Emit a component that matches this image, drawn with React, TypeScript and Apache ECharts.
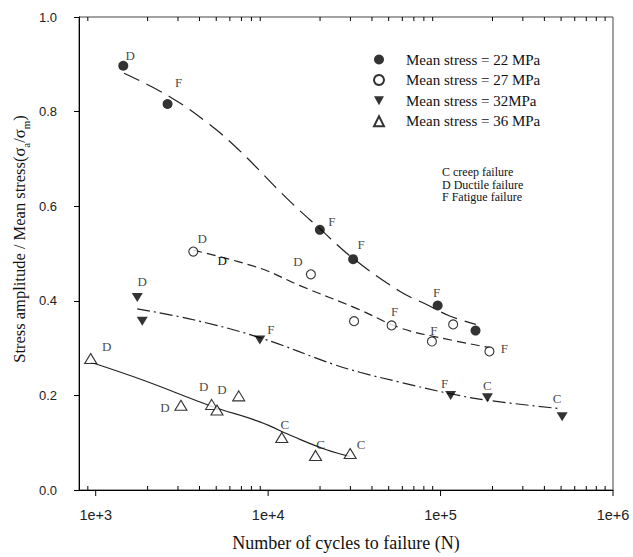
import React, { useEffect, useRef } from 'react';
import * as echarts from 'echarts';

const SERIF = '"Liberation Serif", "Times New Roman", serif';
const SANS = '"Liberation Sans", Arial, sans-serif';

const seriesNames = ['Mean stress = 22 MPa', 'Mean stress = 27 MPa', 'Mean stress = 32MPa', 'Mean stress = 36 MPa'];
const failureNotes = ['C creep failure', 'D Ductile failure', 'F Fatigue failure'];

// measured points (cycles to failure, stress ratio, failure mode)
const s1Cycles = [1445, 2610, 19950, 31100, 96200, 159500];
const s1Ratio = [0.897, 0.816, 0.55, 0.488, 0.39, 0.337];
const s1Mode = ['D', 'F', 'F', 'F', 'F', ''];

const s2Cycles = [3680, 17700, 31500, 52000, 89100, 118300, 192000];
const s2Ratio = [0.504, 0.456, 0.357, 0.348, 0.314, 0.35, 0.293];
const s2Mode = ['D', 'D', '', 'F', 'F', '', 'F'];

const s3Cycles = [1742, 1862, 8950, 114400, 187000, 507000];
const s3Ratio = [0.407, 0.357, 0.317, 0.2, 0.195, 0.155];
const s3Mode = ['D', '', 'F', 'F', 'C', 'C'];

const s4Cycles = [935, 3120, 4700, 5050, 6750, 12000, 18830, 29900];
const s4Ratio = [0.278, 0.179, 0.181, 0.169, 0.199, 0.111, 0.073, 0.077];
const s4Mode = ['D', 'D', 'D', 'D', '', 'C', 'C', 'C'];

// extra "D" mark on the 27 MPa trend
const extraMarkCycles = [5420];
const extraMarkRatio = [0.486];
const extraMarkMode = ['D'];

// fitted trend curves
const fit1Cycles = [1460, 2700, 4600, 6900, 12800, 20000, 31000, 58000, 83000, 113000, 160000];
const fit1Ratio = [0.881, 0.831, 0.772, 0.716, 0.617, 0.552, 0.49, 0.42, 0.392, 0.368, 0.35];
const fit2Cycles = [3680, 8950, 15300, 33000, 58000, 99000, 193000];
const fit2Ratio = [0.507, 0.469, 0.432, 0.383, 0.343, 0.322, 0.301];
const fit3Cycles = [1740, 3680, 8950, 23800, 34000, 58000, 112700, 185000, 492000];
const fit3Ratio = [0.383, 0.36, 0.322, 0.266, 0.249, 0.228, 0.204, 0.19, 0.172];
const fit4Cycles = [935, 1890, 4700, 8950, 14000, 21800, 29800];
const fit4Ratio = [0.27, 0.232, 0.177, 0.144, 0.113, 0.085, 0.071];

// axis ticks
const xMajorTicks = [1000, 10000, 100000, 1000000];
const xMinorTicks = [
  900, 2000, 3000, 4000, 5000, 6000, 7000, 8000, 9000,
  20000, 30000, 40000, 50000, 60000, 70000, 80000, 90000,
  200000, 300000, 400000, 500000, 600000, 700000, 800000, 900000,
];

// label offsets (pixels, relative to marker centre)
const s1LabelOffsets = [[7, -10], [11, -22], [12, -8], [8, -15], [-1, -13], [0, 0]];
const s2LabelOffsets = [[9, -13], [-13, -13], [0, 0], [3, -14], [2, -11], [0, 0], [15, -3]];
const s3LabelOffsets = [[5, -16], [0, 0], [11, -11], [-6, -12], [0, -12], [-5, -18]];
const s4LabelOffsets = [[16, -12], [-16, 2], [-8, -18], [5, -21], [0, 0], [3, -13], [5, -11], [11, -9]];

const zip = (xs: number[], ys: number[]) => xs.map((x, i) => [x, ys[i]]);

const pointData = (xs: number[], ys: number[], modes: string[], offs: number[][]) =>
  xs.map((x, i) => ({
    value: [x, ys[i]],
    label: {
      show: modes[i] !== '',
      formatter: modes[i],
      position: 'inside',
      offset: offs[i],
    },
  }));

const labelStyle = {
  color: '#111',
  fontFamily: SERIF,
  fontSize: 13,
  textBorderWidth: 0,
  textBorderColor: 'transparent',
};

export default function App() {
  const ref = useRef<HTMLDivElement>(null);

  useEffect(() => {
    if (!ref.current) return;
    const chart = echarts.init(ref.current, undefined, { renderer: 'svg' });

    const tickData = [
      ...xMajorTicks.map((v) => [v, 1]),
      ...xMinorTicks.map((v) => [v, 0]),
    ];

    const fitLine = (name: string, xs: number[], ys: number[], dash: any) => ({
      name,
      type: 'line',
      data: zip(xs, ys),
      smooth: 0.4,
      showSymbol: false,
      symbol: 'none',
      silent: true,
      z: 1,
      lineStyle: { color: '#222', width: 1.2, type: dash },
    });

    const option: any = {
      animation: false,
      backgroundColor: '#fff',
      grid: {
        left: 79,
        right: 20,
        top: 17,
        bottom: 63,
        show: true,
        borderColor: '#444',
        borderWidth: 1,
        backgroundColor: 'transparent',
      },
      legend: {
        data: [
          { name: seriesNames[0], icon: 'circle', itemStyle: { color: '#000' } },
          { name: seriesNames[1], icon: 'path://M5,0A5,5 0 1 1 4.99,0Z' },
          { name: seriesNames[2], icon: 'path://M0,0L10,0L5,9Z' },
          { name: seriesNames[3] },
        ],
        orient: 'vertical',
        left: 368,
        top: 47,
        itemWidth: 10,
        itemHeight: 10,
        itemGap: 5.6,
        selectedMode: false,
        textStyle: {
          fontFamily: SERIF,
          fontSize: 15,
          color: '#111',
          padding: [0, 0, 0, 17],
        },
      },
      xAxis: {
        type: 'log',
        logBase: 10,
        min: 800,
        max: 1000000,
        name: 'Number of cycles to failure (N)',
        nameLocation: 'middle',
        nameGap: 44,
        nameTextStyle: { fontFamily: SERIF, fontSize: 18, color: '#111' },
        axisLine: { show: true, lineStyle: { color: '#000', width: 1 } },
        axisTick: { show: false },
        splitLine: { show: false },
        minorTick: { show: false },
        axisLabel: {
          margin: 17,
          fontFamily: SANS,
          fontSize: 14.5,
          color: '#222',
          showMinLabel: false,
          formatter: (v: number) => {
            const e = Math.log10(v);
            return Math.abs(e - Math.round(e)) < 1e-6 ? '1e+' + Math.round(e) : '';
          },
        },
      },
      yAxis: {
        type: 'value',
        min: 0,
        max: 1,
        interval: 0.2,
        axisLine: { show: true, lineStyle: { color: '#000', width: 1 } },
        axisTick: { show: true, inside: false, length: 5, lineStyle: { color: '#000' } },
        splitLine: { show: false },
        axisLabel: {
          margin: 22,
          fontFamily: SANS,
          fontSize: 13,
          color: '#222',
          formatter: (v: number) => v.toFixed(1),
        },
      },
      graphic: [
        {
          type: 'text',
          x: 19,
          y: 239,
          rotation: Math.PI / 2,
          style: {
            text: '{n|Stress amplitude / Mean stress(σ}{s|a}{n|/σ}{s|m}{n|)}',
            align: 'center',
            verticalAlign: 'middle',
            textAlign: 'center',
            textVerticalAlign: 'middle',
            fill: '#111',
            rich: {
              n: { fontFamily: SERIF, fontSize: 16.5, color: '#111' },
              s: { fontFamily: SERIF, fontSize: 11, color: '#111', lineHeight: 24, verticalAlign: 'bottom' },
            },
          },
        },
        {
          type: 'text',
          left: 442,
          top: 166,
          style: {
            text: failureNotes.map((t) => '{t|' + t + '}').join('\n'),
            fill: '#111',
            rich: {
              t: { fontFamily: SERIF, fontSize: 12, lineHeight: 12.5, color: '#111' },
            },
          },
        },
      ],
      series: [
        {
          name: 'xticks',
          type: 'custom',
          silent: true,
          z: 5,
          data: tickData,
          renderItem: (params: any, api: any) => {
            const v = api.value(0);
            const major = api.value(1) === 1;
            const b = api.coord([v, 0]);
            const t = api.coord([v, 1]);
            const st = { stroke: '#000', lineWidth: 1 };
            if (major) {
              return {
                type: 'line',
                shape: { x1: b[0], y1: b[1], x2: b[0], y2: b[1] + 6 },
                style: st,
              };
            }
            return {
              type: 'group',
              children: [
                { type: 'line', shape: { x1: b[0], y1: b[1], x2: b[0], y2: b[1] - 4 }, style: st },
                { type: 'line', shape: { x1: t[0], y1: t[1], x2: t[0], y2: t[1] + 4 }, style: st },
              ],
            };
          },
        },
        fitLine('fit22', fit1Cycles, fit1Ratio, [17, 8]),
        fitLine('fit27', fit2Cycles, fit2Ratio, [9, 5]),
        fitLine('fit32', fit3Cycles, fit3Ratio, [13, 4, 2, 4]),
        fitLine('fit36', fit4Cycles, fit4Ratio, 'solid'),
        {
          name: seriesNames[0],
          type: 'scatter',
          symbol: 'circle',
          symbolSize: 10,
          z: 3,
          itemStyle: { color: '#000' },
          label: labelStyle,
          data: pointData(s1Cycles, s1Ratio, s1Mode, s1LabelOffsets),
        },
        {
          name: seriesNames[1],
          type: 'scatter',
          symbol: 'circle',
          symbolSize: 9,
          z: 3,
          itemStyle: { color: '#fff', borderColor: '#000', borderWidth: 1.1 },
          label: labelStyle,
          data: pointData(s2Cycles, s2Ratio, s2Mode, s2LabelOffsets),
          markPoint: {
            symbol: 'circle',
            symbolSize: 1,
            itemStyle: { color: 'rgba(0,0,0,0)' },
            label: { ...labelStyle, show: true, position: 'inside', formatter: (p: any) => p.name },
            data: extraMarkCycles.map((c, i) => ({
              name: extraMarkMode[i],
              coord: [c, extraMarkRatio[i]],
            })),
          },
        },
        {
          name: seriesNames[2],
          type: 'scatter',
          symbol: 'triangle',
          symbolRotate: 180,
          symbolSize: [11, 9],
          z: 3,
          itemStyle: { color: '#000' },
          label: labelStyle,
          data: pointData(s3Cycles, s3Ratio, s3Mode, s3LabelOffsets),
        },
        {
          name: seriesNames[3],
          type: 'scatter',
          symbol: 'triangle',
          symbolSize: [12, 10],
          z: 3,
          itemStyle: { color: '#fff', borderColor: '#000', borderWidth: 1.1 },
          label: labelStyle,
          data: pointData(s4Cycles, s4Ratio, s4Mode, s4LabelOffsets),
        },
      ],
    };

    chart.setOption(option);
    return () => chart.dispose();
  }, []);

  return (
    <div
      ref={ref}
      style={{ position: 'absolute', left: 0, top: 0, width: 633, height: 557, background: '#fff' }}
    />
  );
}
